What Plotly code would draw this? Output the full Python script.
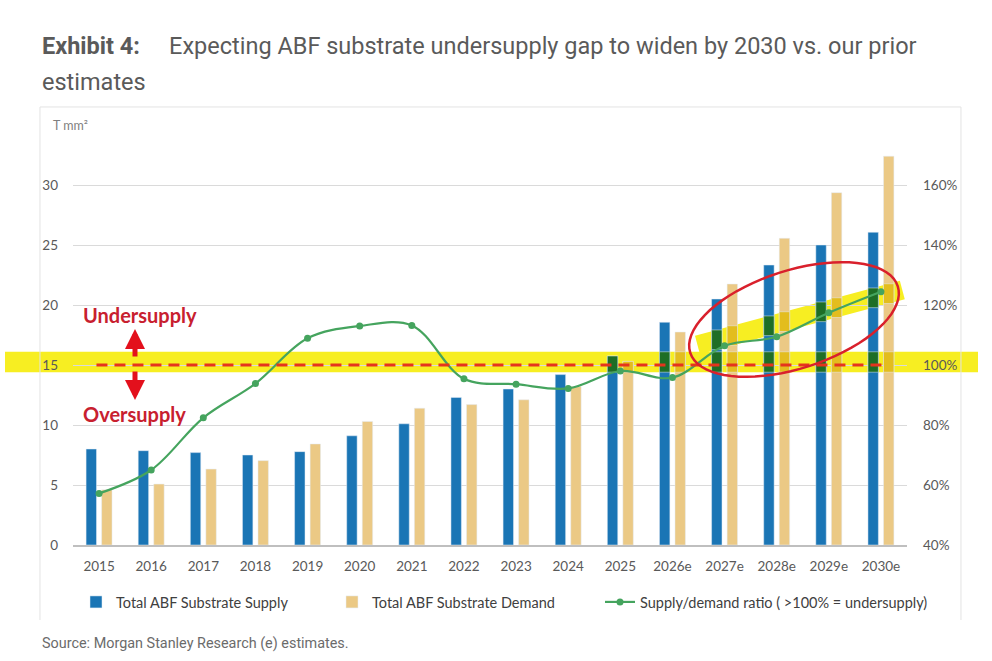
import numpy as np
import plotly.graph_objects as go

years = ["2015", "2016", "2017", "2018", "2019", "2020", "2021", "2022",
         "2023", "2024", "2025", "2026e", "2027e", "2028e", "2029e", "2030e"]
supply = [8.0, 7.86, 7.7, 7.5, 7.78, 9.1, 10.1, 12.3,
          13.0, 14.2, 15.75, 18.56, 20.5, 23.33, 25.0, 26.06]
demand = [4.6, 5.08, 6.33, 7.03, 8.42, 10.3, 11.4, 11.7,
          12.1, 13.2, 15.3, 17.75, 21.75, 25.56, 29.36, 32.4]
ratio = [57.2, 65.0, 82.4, 93.8, 108.9, 113.0, 113.2, 95.4,
         93.6, 92.2, 98.0, 95.8, 106.4, 109.4, 117.4, 124.4]

left_ticks = [0, 5, 10, 15, 20, 25, 30]
right_ticks = [40, 60, 80, 100, 120, 140, 160]

# page / plot area in pixels
W, H = 992, 661
L, R, T, B = 73, 907, 125, 545
Y_MAX = 35


def px(x):
    return (x - L) / (R - L)


def py(y):
    return (B - y) / (B - T)


BLUE = "#1A75B5"
TAN = "#EBC985"
GREEN = "#45A45E"
RED = "#D9202C"
YELLOW = "#F7EE22"
BLUE_HL = "#1E6E26"   # blue bar seen through the highlighter
TAN_HL = "#E3BD1E"    # tan bar seen through the highlighter
GREY_TXT = "#595959"

BAR_W = 0.2
OFF_S, OFF_D = -0.249, 0.049

# highlighter geometry (y in left-axis units, x in category index)
band_lo, band_hi = 14.4, 16.1
dx0, dy0, dx1, dy1, d_width = 11.48, 16.67, 15.41, 21.25, 19
slope = (dy1 - dy0) / (dx1 - dx0)
unit_px = (B - T) / Y_MAX
cat_px = (R - L) / len(years)
half_v = d_width / 2 / np.cos(np.arctan(slope * unit_px / cat_px)) / unit_px


def band_part(vals):
    base, h = [], []
    for v in vals:
        if v > band_lo:
            base.append(band_lo)
            h.append(min(v, band_hi) - band_lo)
        else:
            base.append(None)
            h.append(None)
    return base, h


def diag_part(vals, off):
    base, h = [], []
    for i, v in enumerate(vals):
        xc = i + off + BAR_W / 2
        yc = dy0 + (xc - dx0) * slope
        if dx0 <= xc <= dx1 and v > yc - half_v:
            lo = yc - half_v
            base.append(lo)
            h.append(min(v, yc + half_v) - lo)
        else:
            base.append(None)
            h.append(None)
    return base, h


fig = go.Figure()
fig.add_trace(go.Bar(x=years, y=supply, name="Total ABF Substrate Supply",
                     marker_color=BLUE, width=BAR_W, offset=OFF_S, legend="legend"))
fig.add_trace(go.Bar(x=years, y=demand, name="Total ABF Substrate Demand",
                     marker_color=TAN, width=BAR_W, offset=OFF_D, legend="legend2"))

for vals, off, col in [(supply, OFF_S, BLUE_HL), (demand, OFF_D, TAN_HL)]:
    for part in (band_part(vals), diag_part(vals, off)):
        fig.add_trace(go.Bar(x=years, y=part[1], base=part[0], width=BAR_W, offset=off,
                             marker_color=col, showlegend=False, hoverinfo="skip"))

fig.add_trace(go.Scatter(x=years, y=ratio, yaxis="y2", mode="lines+markers",
                         name="Supply/demand ratio ( >100% = undersupply)",
                         line=dict(color=GREEN, width=2.2, shape="spline", smoothing=1),
                         marker=dict(color=GREEN, size=7), legend="legend3"))

# tilted red ellipse around the forecast years
cx, cy, a, b, th = 794, 319.5, 109, 49, np.radians(17.8)
t = np.linspace(0, 2 * np.pi, 73)
ex = cx + a * np.cos(t) * np.cos(th) - b * np.sin(t) * np.sin(th)
ey = cy - (a * np.cos(t) * np.sin(th) + b * np.sin(t) * np.cos(th))
ellipse = "M " + " L ".join(f"{px(x):.4f},{py(y):.4f}" for x, y in zip(ex, ey)) + " Z"

frame = (f"M {px(40):.4f},{py(620):.4f} L {px(40):.4f},{py(107):.4f} "
         f"L {px(961):.4f},{py(107):.4f} L {px(961):.4f},{py(620):.4f}")

shapes = [
    dict(type="path", path=frame, xref="paper", yref="paper",
         line=dict(color="#E3E3E3", width=1)),
    # horizontal highlighter band at 100%
    dict(type="rect", xref="paper", yref="y", x0=px(5), x1=px(978), y0=band_lo, y1=band_hi,
         fillcolor=YELLOW, line_width=0, layer="below"),
    # diagonal highlighter stroke along the forecast ratio
    dict(type="line", xref="x", yref="y", x0=dx0, y0=dy0, x1=dx1, y1=dy1,
         line=dict(color=YELLOW, width=d_width), layer="below"),
    dict(type="line", xref="x", yref="y", x0=-0.05, x1=15.05, y0=15, y1=15,
         line=dict(color="#E5341D", width=3, dash="11px,7px")),
    dict(type="path", path=ellipse, xref="paper", yref="paper",
         line=dict(color=RED, width=2.5)),
]

annotations = [
    dict(x=px(40), y=py(46), xref="paper", yref="paper", xanchor="left", yanchor="middle",
         showarrow=False, align="left",
         text="<b>Exhibit 4:</b>&nbsp;&nbsp;&nbsp;&nbsp; Expecting ABF substrate undersupply gap "
              "to widen by 2030 vs. our prior",
         font=dict(family="Roboto", size=23.5, color="#5A5A5A")),
    dict(x=px(40), y=py(82), xref="paper", yref="paper", xanchor="left", yanchor="middle",
         showarrow=False, text="estimates",
         font=dict(family="Roboto", size=23.5, color="#5A5A5A")),
    dict(x=px(51), y=py(125), xref="paper", yref="paper", xanchor="left", yanchor="middle",
         showarrow=False, text="T mm²",
         font=dict(family="Lato", size=12.5, color="#7F7F7F")),
    dict(x=px(140), y=py(315), xref="paper", yref="paper", xanchor="center", yanchor="middle",
         showarrow=False, text="<b>Undersupply</b>",
         font=dict(family="Lato", size=20, color="#C8202F")),
    dict(x=px(134), y=py(414), xref="paper", yref="paper", xanchor="center", yanchor="middle",
         showarrow=False, text="<b>Oversupply</b>",
         font=dict(family="Lato", size=20, color="#C8202F")),
    dict(x=px(135), y=py(329), xref="paper", yref="paper", ax=0, ay=29, text="",
         showarrow=True, arrowhead=2, arrowsize=0.8, arrowwidth=5, arrowcolor="#E3101C"),
    dict(x=px(135), y=py(400), xref="paper", yref="paper", ax=0, ay=-30, text="",
         showarrow=True, arrowhead=2, arrowsize=0.8, arrowwidth=5, arrowcolor="#E3101C"),
    dict(x=px(40), y=py(643), xref="paper", yref="paper", xanchor="left", yanchor="middle",
         showarrow=False, text="Source: Morgan Stanley Research (e) estimates.",
         font=dict(family="Roboto", size=14.4, color="#6B6B6B")),
]

legend_font = dict(family="Lato", size=14.5, color="#404040")
legend_common = dict(orientation="h", xref="container", yref="container",
                     xanchor="left", y=(H - 602) / H, yanchor="middle",
                     bgcolor="rgba(0,0,0,0)", font=legend_font)

fig.update_layout(
    width=W, height=H,
    margin=dict(l=L, r=W - R, t=T, b=H - B, pad=0, autoexpand=False),
    paper_bgcolor="white", plot_bgcolor="white",
    barmode="overlay", showlegend=True,
    font=dict(family="Lato", size=13, color=GREY_TXT),
    xaxis=dict(type="category", range=[-0.5, len(years) - 0.5], showgrid=False,
               showline=True, linecolor="#BFBFBF",
               linewidth=1.5, ticks="", ticklabelstandoff=8, automargin=False,
               tickfont=dict(family="Lato", size=13.5, color=GREY_TXT)),
    yaxis=dict(range=[0, Y_MAX], tickvals=left_ticks, showgrid=True, gridcolor="#DADADA",
               zeroline=False, showline=False, ticks="", ticklabelstandoff=14,
               automargin=False,
               tickfont=dict(family="Lato", size=13.5, color=GREY_TXT)),
    yaxis2=dict(range=[40, 180], tickvals=right_ticks,
                ticktext=[f"{v}%" for v in right_ticks], overlaying="y",
                side="right", showgrid=False, zeroline=False, showline=False, ticks="",
                ticklabelstandoff=15, automargin=False,
                tickfont=dict(family="Lato", size=13.5, color=GREY_TXT)),
    legend=dict(x=76 / W, **legend_common),
    legend2=dict(x=332 / W, **legend_common),
    legend3=dict(x=600 / W, **legend_common),
    shapes=shapes,
    annotations=annotations,
)

page_css = ("var s=document.createElement('style');"
            "s.textContent='body{margin:0}';"
            "document.head.appendChild(s);")

fig.write_html("out.html", post_script=page_css, config={"displayModeBar": False})
